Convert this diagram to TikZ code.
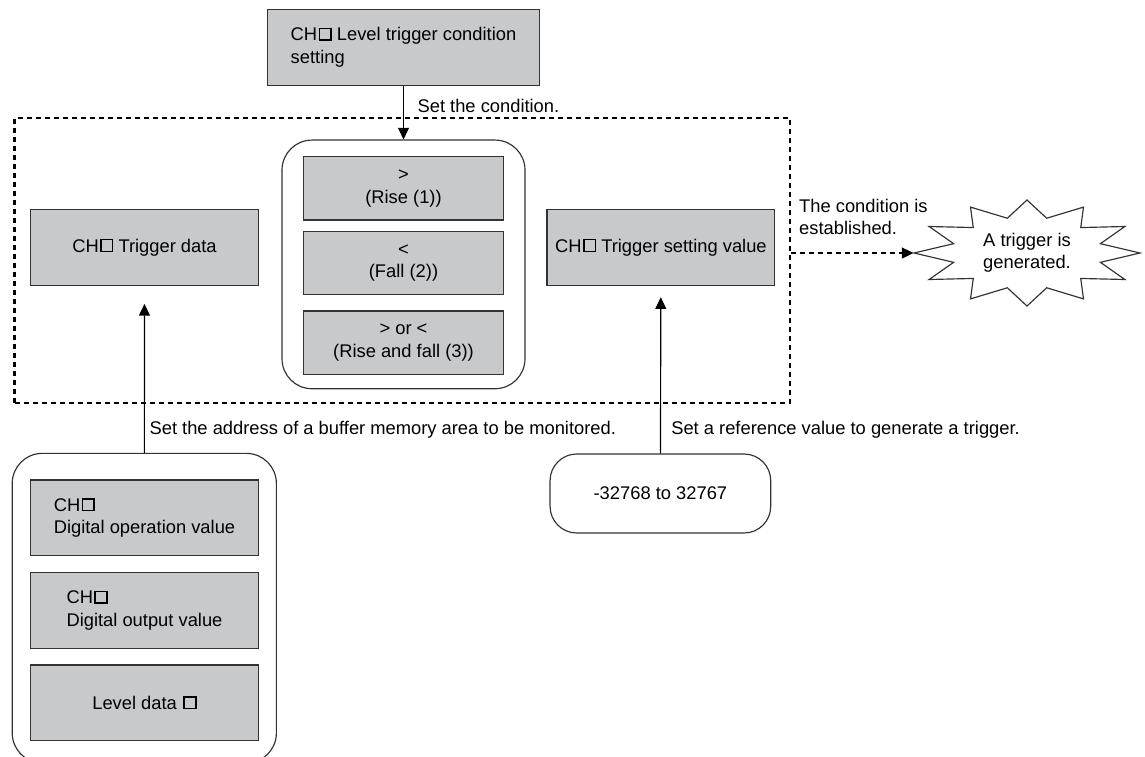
\documentclass[tikz,border=0pt]{standalone}
\usepackage{fontspec}
\setmainfont{Liberation Sans}
\usetikzlibrary{arrows.meta}

\definecolor{boxgray}{HTML}{C8C9CA}
\definecolor{edgegray}{HTML}{333333}

% channel placeholder square
\newcommand\chsq{\hspace{0.08em}\raisebox{0.9pt}{\setlength\fboxsep{0pt}\setlength\fboxrule{0.9pt}\fbox{\rule{0pt}{6.1pt}\hspace{6.1pt}}}}

\begin{document}
\begin{tikzpicture}[
x=0.6pt, y=-0.6pt, % one unit is one pixel of the reference
>={Triangle[length=7pt,width=6.5pt]},
line width=0.7pt,
every node/.style={font=\fontsize{11}{13.5}\selectfont, inner sep=0pt},
graybox/.style={draw=edgegray, fill=boxgray, align=center},
roundbox/.style={draw=edgegray, rounded corners=18pt},
lbl/.style={anchor=west, align=left},
dashline/.style={line width=1.3pt, dash pattern=on 3pt off 2.4pt}
]
\useasboundingbox (0,0) rectangle (1145,756);

% ================= Nodes =================

% Condition setting (top)
\node[graybox, align=left, minimum width=163.2pt, minimum height=45.6pt] (cond) at (403.5,47.3) {CH\chsq{} Level trigger condition\\setting};

% Dashed area
\node[draw=black, dashline, minimum width=465.2pt, minimum height=170.6pt] (zone) at (402.2,260.5) {};

% Comparison group (middle)
\node[roundbox, minimum width=145.8pt, minimum height=149.2pt] (cmp) at (403.5,264.4) {};
\node[graybox, minimum width=120pt, minimum height=38pt] (rise) at (403.5,188.4) {>\\(Rise (1))};
\node[graybox, minimum width=120pt, minimum height=38pt] (fall) at (403.5,262.9) {<\\(Fall (2))};
\node[graybox, minimum width=120pt, minimum height=38pt] (both) at (403.5,342.7) {> or <\\(Rise and fall (3))};

% Trigger data and setting value
\node[graybox, minimum width=136.6pt, minimum height=45.6pt] (tdata) at (144.5,247.3) {CH\chsq{} Trigger data};
\node[graybox, minimum width=136.6pt, minimum height=45.6pt] (tset) at (660.9,247.3) {CH\chsq{} Trigger setting value};

% Trigger generated
\node[align=center, minimum width=135.6pt, minimum height=63.6pt] (star) at (1027,253) {A trigger is\\generated.};
\draw[draw=edgegray, shift={(star.center)}] (0:113 and 53)
  \foreach \a [evaluate=\a as \b using \a+15] in {15,45,...,345} { -- (\a:76 and 36) -- (\b:113 and 53) } -- cycle;

% Monitored sources (bottom left)
\node[roundbox, minimum width=158.5pt, minimum height=185.8pt] (src) at (144.3,608.2) {};
\node[graybox, align=left, minimum width=136.6pt, minimum height=45.4pt] (dop) at (144.5,517.9) {CH\chsq\\Digital operation value};
\node[graybox, align=left, minimum width=136.6pt, minimum height=45.4pt] (dout) at (144.5,610.3) {CH\chsq\\Digital output value};
\node[graybox, minimum width=136.6pt, minimum height=45.4pt] (lvl) at (144.5,702.9) {Level data \chsq};

% Value range (bottom middle)
\node[roundbox, rounded corners=16pt, minimum width=132.4pt, minimum height=47.4pt] (range) at (660.4,493.5) {-32768 to 32767};

% ================= Edges =================

\draw[->] (cond) -- (cmp);
\draw[->, shorten >=10.8pt] (src) -- (tdata);
\draw[->, shorten >=6.8pt] (range) -- (tset);
\draw[->, dashline] (zone.east |- star.west) -- (star.west);

% ================= Labels =================

\node[lbl] (lcond) at (417,106) {Set the condition.};
\node[lbl] (lest) at (798.6,217) {The condition is\\established.};
\node[lbl] (laddr) at (149,429.3) {Set the address of a buffer memory area to be monitored.};
\node[lbl] (lref) at (670.7,429.3) {Set a reference value to generate a trigger.};

\end{tikzpicture}
\end{document}
